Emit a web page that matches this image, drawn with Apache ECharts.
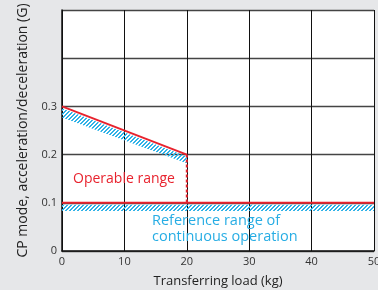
<!DOCTYPE html>
<html>
<head>
<meta charset="utf-8">
<script src="https://cdn.jsdelivr.net/npm/echarts@6/dist/echarts.min.js"></script>
<style>
html,body{margin:0;padding:0;background:#e6e7e9;}
#c{width:378px;height:290px;}
</style>
</head>
<body>
<div id="c"></div>
<script>
// ---- data ----
const xTicks = [0, 10, 20, 30, 40, 50];
const yTicks = [0, 0.1, 0.2, 0.3, 0.4, 0.5];
const yTickLabels = ['0', '0.1', '0.2', '0.3', '', ''];
const operableSlope = [[0, 0.3], [20, 0.2]];
const operableFlat = [[0, 0.1], [50, 0.1]];
const operableDivider = [[20, 0.2], [20, 0.1]];
const refSlopeUpper = [[0, 0.296], [20, 0.196]];
const refSlopeLower = [[0, 0.277], [20, 0.182]];
const refFlatUpper = [[0, 0.096], [50, 0.096]];
const refFlatLower = [[0, 0.083], [50, 0.083]];
const labelOperable = 'Operable range';
const labelReference = ['Reference range of', 'continuous operation'];
const xName = 'Transferring load (kg)';
const yName = 'CP mode, acceleration/deceleration (G)';

const bands = [
  { upper: refSlopeUpper, lower: refSlopeLower },
  { upper: refFlatUpper, lower: refFlatLower }
];

// hatch pattern
const pc = document.createElement('canvas');
pc.width = 4; pc.height = 4;
const g = pc.getContext('2d');
g.fillStyle = '#2fb2e8';
for (let i = 0; i < 4; i++) {
  g.fillRect(i, 3 - i, 1, 1);
  g.fillRect((i + 1) % 4, 3 - i, 1, 1);
}
const hatch = { image: pc, repeat: 'repeat' };

const RED = '#e8232e';
const BLUE = '#27ade4';
const FONT = 'Open Sans';

const chart = echarts.init(document.getElementById('c'));
chart.setOption({
  backgroundColor: '#e6e7e9',
  animation: false,
  grid: { left: 62, right: 4, top: 10, bottom: 39, show: true, backgroundColor: '#fff', borderWidth: 0,
    containLabel: false, outerBoundsMode: 'none' },
  xAxis: {
    type: 'value', min: 0, max: 50, interval: 10,
    name: xName, nameLocation: 'middle', nameGap: 24,
    nameTextStyle: { fontFamily: FONT, fontSize: 13, color: '#222' },
    axisLine: { show: true, lineStyle: { color: '#111', width: 1.5 } },
    axisTick: { show: false },
    axisLabel: { fontFamily: FONT, fontSize: 11, color: '#333', margin: 5,
      formatter: v => String(xTicks[xTicks.indexOf(v)]) },
    splitLine: { show: true, lineStyle: { color: '#111', width: 1 } }
  },
  yAxis: {
    type: 'value', min: 0, max: 0.5, interval: 0.1,
    name: yName, nameLocation: 'middle', nameGap: 32, nameRotate: 90,
    nameTextStyle: { fontFamily: FONT, fontSize: 14, color: '#222' },
    axisLine: { show: true, lineStyle: { color: '#111', width: 1.5 } },
    axisTick: { show: false },
    axisLabel: { fontFamily: FONT, fontSize: 11, color: '#333', margin: 5,
      formatter: v => { const i = yTicks.findIndex(t => Math.abs(t - v) < 1e-9); return i >= 0 ? yTickLabels[i] : ''; } },
    splitLine: { show: true, lineStyle: { color: '#444', width: 1.3 } }
  },
  series: [
    {
      type: 'custom',
      data: bands.map((b, i) => [b.upper[0][0], b.upper[0][1], i]),
      encode: { x: 0, y: 1 },
      clip: true,
      silent: true,
      renderItem: function (params, api) {
        const b = bands[params.dataIndex];
        const pts = b.upper.map(p => api.coord(p))
          .concat(b.lower.slice().reverse().map(p => api.coord(p)));
        return { type: 'polygon', shape: { points: pts }, style: { fill: hatch, stroke: null } };
      },
      z: 2
    },
    { type: 'line', data: operableSlope, symbol: 'none', lineStyle: { color: RED, width: 2 }, z: 3 },
    { type: 'line', data: operableFlat, symbol: 'none', lineStyle: { color: RED, width: 2 }, z: 3 },
    { type: 'line', data: operableDivider, symbol: 'none', lineStyle: { color: RED, width: 2, type: [3, 2] }, z: 3 }
  ],
  graphic: [
    { type: 'text', left: 73, top: 172, z: 10,
      style: { text: labelOperable, fill: RED, font: '14px "' + FONT + '"' } },
    { type: 'text', left: 152, top: 213, z: 10,
      style: { text: labelReference.join('\n'), fill: BLUE, font: '14.5px "' + FONT + '"', lineHeight: 16 } }
  ]
});
</script>
</body>
</html>
